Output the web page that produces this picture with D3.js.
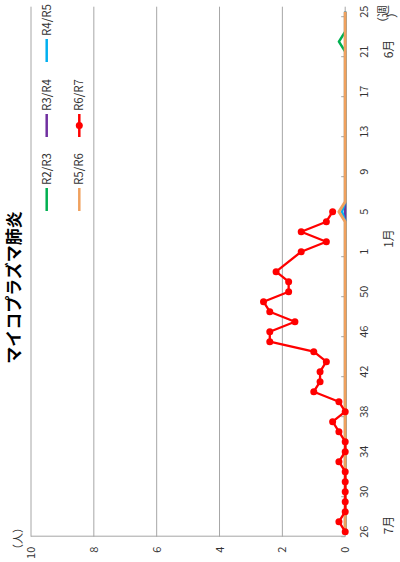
<!DOCTYPE html>
<html><head><meta charset="utf-8">
<script src="https://cdn.jsdelivr.net/npm/d3@7"></script>
<style>html,body{margin:0;padding:0;background:#fff;} svg{display:block;}</style>
</head><body>
<script>
// week categories (season runs from week 26 to week 25 of the next year)
const categories = [26,27,28,29,30, 31,32,33,34,35, 36,37,38,39,40, 41,42,43,44,45, 46,47,48,49,50, 51,52,53,
  1,2,3,4,5, 6,7,8,9,10, 11,12,13,14,15, 16,17,18,19,20, 21,22,23,24,25];
const tickLabels = [26,30,34,38,42,46,50,1,5,9,13,17,21,25];
const valueTicks = [0,2,4,6,8,10];
const seriesNames = ["R2/R3","R3/R4","R4/R5","R5/R6","R6/R7"];
const seriesColors = ["#00b050","#7030a0","#00b0f0","#f0a15e","#ff0000"];

const r2r3 = [0,0,0,0,0, 0,0,0,0,0, 0,0,0,0,0, 0,0,0,0,0, 0,0,0,0,0, 0,0,0,
  0,0,0,0,0, 0,0,0,0,0, 0,0,0,0,0, 0,0,0,0,0, 0,0.2,0,0,0];
const r3r4 = [0,0,0,0,0, 0,0,0,0,0, 0,0,0,0,0, 0,0,0,0,0, 0,0,0,0,0, 0,0,0,
  0,0,0,0,0, 0,0,0,0,0, 0,0,0,0,0, 0,0,0,0,0, 0,0,0,0,0];
const r4r5 = [0,0,0,0,0, 0,0,0,0,0, 0,0,0,0,0, 0,0,0,0,0, 0,0,0,0,0, 0,0,0,
  0,0,0,0,0.1, 0,0,0,0,0, 0,0,0,0,0, 0,0,0,0,0, 0,0,0,0,0];
const r5r6 = [0,0,0,0,0, 0,0,0,0,0, 0,0,0,0,0, 0,0,0,0,0, 0,0,0,0,0, 0,0,0,
  0,0,0,0,0.2, 0,0,0,0,0, 0,0,0,0,0, 0,0,0,0,0, 0,0,0,0,0];
const r6r7 = [0,0.2,0,0,0, 0,0,0.2,0,0, 0.2,0.4,0,0.2,1.0, 0.8,0.8,0.6,1.0,2.4, 2.4,1.6,2.4,2.6,1.8, 1.8,2.2,null,
  1.4,0.6,1.4,0.6,0.4, null,null,null,null,null, null,null,null,null,null, null,null,null,null,null, null,null,null,null,null];
const seriesValues = [r2r3, r3r4, r4r5, r5r6, r6r7];

const FONT = "'Noto Sans CJK JP','Noto Sans',sans-serif";
const svg = d3.select('body').append('svg').attr('width',400).attr('height',562)
  .style('font-family', FONT);
// chart is drawn in a 562x400 frame, rotated 90deg counter-clockwise
const g = svg.append('g').attr('transform','translate(0,562) rotate(-90)');

const x = d3.scaleBand().domain(categories).range([25.3,555.3]);
const cx = c => x(c) + x.bandwidth()/2;
const y = d3.scaleLinear().domain([0,10]).range([345.2,31]);

// gridlines
g.append('g').selectAll('line').data(valueTicks.filter(v=>v>0)).join('line')
  .attr('x1', x.range()[0]).attr('x2', x.range()[1])
  .attr('y1', d=>y(d)).attr('y2', d=>y(d))
  .attr('stroke','#a6a6a6').attr('stroke-width',1);
// value axis line
g.append('line').attr('x1',x.range()[0]+0.5).attr('x2',x.range()[0]+0.5)
  .attr('y1',y(0)).attr('y2',y(10)).attr('stroke','#a6a6a6');

// value axis labels
const yAxis = g.append('g').attr('transform',`translate(${x.range()[0]},0)`)
  .call(d3.axisLeft(y).tickValues(valueTicks).tickSize(0).tickPadding(10));
yAxis.select('.domain').remove();
yAxis.selectAll('text').attr('font-size',11).attr('fill','#333').style('font-family',FONT);

// category axis line + ticks
g.append('line').attr('x1',x.range()[0]).attr('x2',x.range()[1])
  .attr('y1',y(0)).attr('y2',y(0)).attr('stroke','#a6a6a6');
g.append('g').selectAll('line').data(tickLabels).join('line')
  .attr('x1',d=>x(d)).attr('x2',d=>x(d))
  .attr('y1',y(0)).attr('y2',y(0)-4).attr('stroke','#a6a6a6');
const xAxis = g.append('g').attr('transform',`translate(0,${y(0)})`)
  .call(d3.axisBottom(x).tickValues(tickLabels).tickSize(0).tickPadding(15));
xAxis.select('.domain').remove();
xAxis.selectAll('text').attr('font-size',11).attr('fill','#333').style('font-family',FONT);

// series lines
const line = d3.line().x(d=>cx(d.c)).y(d=>y(d.v));
seriesValues.forEach((vals,i)=>{
  const pts = categories.map((c,j)=>({c, v: vals[j]})).filter(d=>d.v!==null);
  g.append('path').datum(pts).attr('d',line).attr('fill','none')
    .attr('stroke',seriesColors[i])
    .attr('stroke-width', i===3 ? 3 : (i===4 ? 2.3 : 2.5))
    .attr('stroke-linejoin','round');
  if (i===4) {
    g.append('g').selectAll('circle').data(pts).join('circle')
      .attr('cx',d=>cx(d.c)).attr('cy',d=>y(d.v)).attr('r',3.5)
      .attr('fill',seriesColors[i]);
  }
});

// legend
const legendPos = [[351,46.7],[425,46.7],[500,46.7],[351,79.3],[425,79.3]];
seriesNames.forEach((name,i)=>{
  const [lx,ly] = legendPos[i];
  const lg = g.append('g');
  lg.append('line').attr('x1',lx).attr('x2',lx+23).attr('y1',ly).attr('y2',ly)
    .attr('stroke',seriesColors[i]).attr('stroke-width',2.5);
  if (i===4) lg.append('circle').attr('cx',lx+11.5).attr('cy',ly).attr('r',3.5).attr('fill',seriesColors[i]);
  lg.append('text').attr('x',lx+26).attr('y',ly+4).attr('font-size',11.5)
    .attr('fill','#333').text(name);
});

// title
g.append('text').attr('x',274.5).attr('y',19.5).attr('text-anchor','middle')
  .attr('font-size',17).attr('font-weight','bold').attr('fill','#000')
  .text('マイコプラズマ肺炎');
// unit labels
g.append('text').attr('x',23.5).attr('y',21.5).attr('text-anchor','middle')
  .attr('font-size',11).attr('fill','#333').text('（人）');
g.append('text').attr('x',533).attr('y',388).attr('font-size',12).attr('fill','#333').text('（週');
g.append('text').attr('x',544).attr('y',397).attr('font-size',12).attr('fill','#333').text('）');
// month labels
const monthLabels = [["7月",37],["1月",323.5],["6月",513]];
g.append('g').selectAll('text').data(monthLabels).join('text')
  .attr('x',d=>d[1]).attr('y',393).attr('text-anchor','middle')
  .attr('font-size',12).attr('fill','#333').text(d=>d[0]);
</script>
</body></html>
